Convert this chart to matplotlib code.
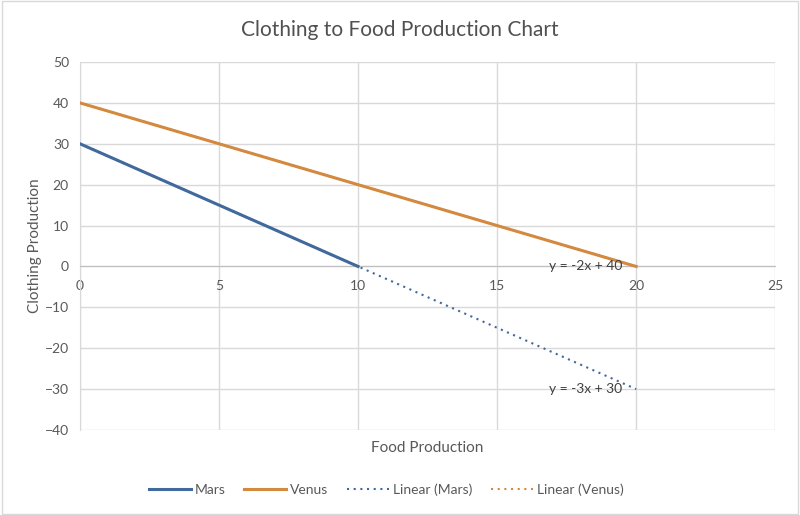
import matplotlib
matplotlib.use("Agg")
import matplotlib.pyplot as plt
from matplotlib.patches import Rectangle

plt.rcParams['font.family'] = ['Lato', 'DejaVu Sans']

mars_x = [0, 10]
mars_y = [30, 0]
venus_x = [0, 20]
venus_y = [40, 0]
trend_x = [0, 20]
mars_trend_y = [30, -30]
venus_trend_y = [40, 0]
x_ticks = [0, 5, 10, 15, 20, 25]
y_ticks = [-40, -30, -20, -10, 0, 10, 20, 30, 40, 50]

blue = '#41699c'
orange = '#d38a40'
grey_txt = '#595959'
grid_c = '#d9d9d9'

fig = plt.figure(figsize=(8, 5.15), dpi=100)
ax = fig.add_axes([0.1, 0.165, 0.869, 0.7146])

ax.plot(trend_x, mars_trend_y, color=blue, lw=1.5, ls=(0, (1, 2.2)), label='Linear (Mars)', zorder=2)
ax.plot(trend_x, venus_trend_y, color=orange, lw=1.5, ls=(0, (1, 2.2)), label='Linear (Venus)', zorder=2)
l1, = ax.plot(mars_x, mars_y, color=blue, lw=2.2, label='Mars', zorder=3)
l2, = ax.plot(venus_x, venus_y, color=orange, lw=2.2, label='Venus', zorder=3)

ax.set_xlim(0, 25)
ax.set_ylim(-40, 50)
ax.set_xticks(x_ticks)
ax.set_yticks(y_ticks)
ax.grid(True, color=grid_c, lw=1)
ax.set_axisbelow(True)
for s in ['top', 'right']:
    ax.spines[s].set_visible(False)
ax.spines['left'].set_color(grid_c)
ax.spines['bottom'].set_position(('data', 0))
ax.spines['bottom'].set_color('#bfbfbf')
ax.tick_params(length=0, labelsize=10, colors=grey_txt, pad=8)
ax.tick_params(axis='x', pad=10)
ax.set_xticklabels([str(t) for t in x_ticks])

ax.set_xlabel('Food Production', fontsize=11, color=grey_txt)
ax.xaxis.set_label_coords(0.5, -0.03)
ax.set_ylabel('Clothing Production', fontsize=11, color=grey_txt)
ax.yaxis.set_label_coords(-0.054, 0.5)
fig.text(0.5, 0.942, 'Clothing to Food Production Chart', ha='center', va='center',
         fontsize=15, color='#505050')

ax.text(19.5, 0, 'y = -2x + 40', ha='right', va='center', fontsize=10, color='#404040')
ax.text(19.5, -30, 'y = -3x + 30', ha='right', va='center', fontsize=10, color='#404040')

handles = [l1, l2] + ax.get_lines()[:2]
leg = fig.legend(handles, ['Mars', 'Venus', 'Linear (Mars)', 'Linear (Venus)'],
                 loc='center', bbox_to_anchor=(0.483, 0.05), ncol=4, frameon=False,
                 fontsize=10, handlelength=3.0, columnspacing=1.35, handletextpad=0.3)
for t in leg.get_texts():
    t.set_color(grey_txt)

fig.patches.append(Rectangle((0.002, 0.002), 0.996, 0.996, transform=fig.transFigure,
                             fill=False, edgecolor='#d9d9d9', lw=1))

fig.savefig('out.png', dpi=100)
